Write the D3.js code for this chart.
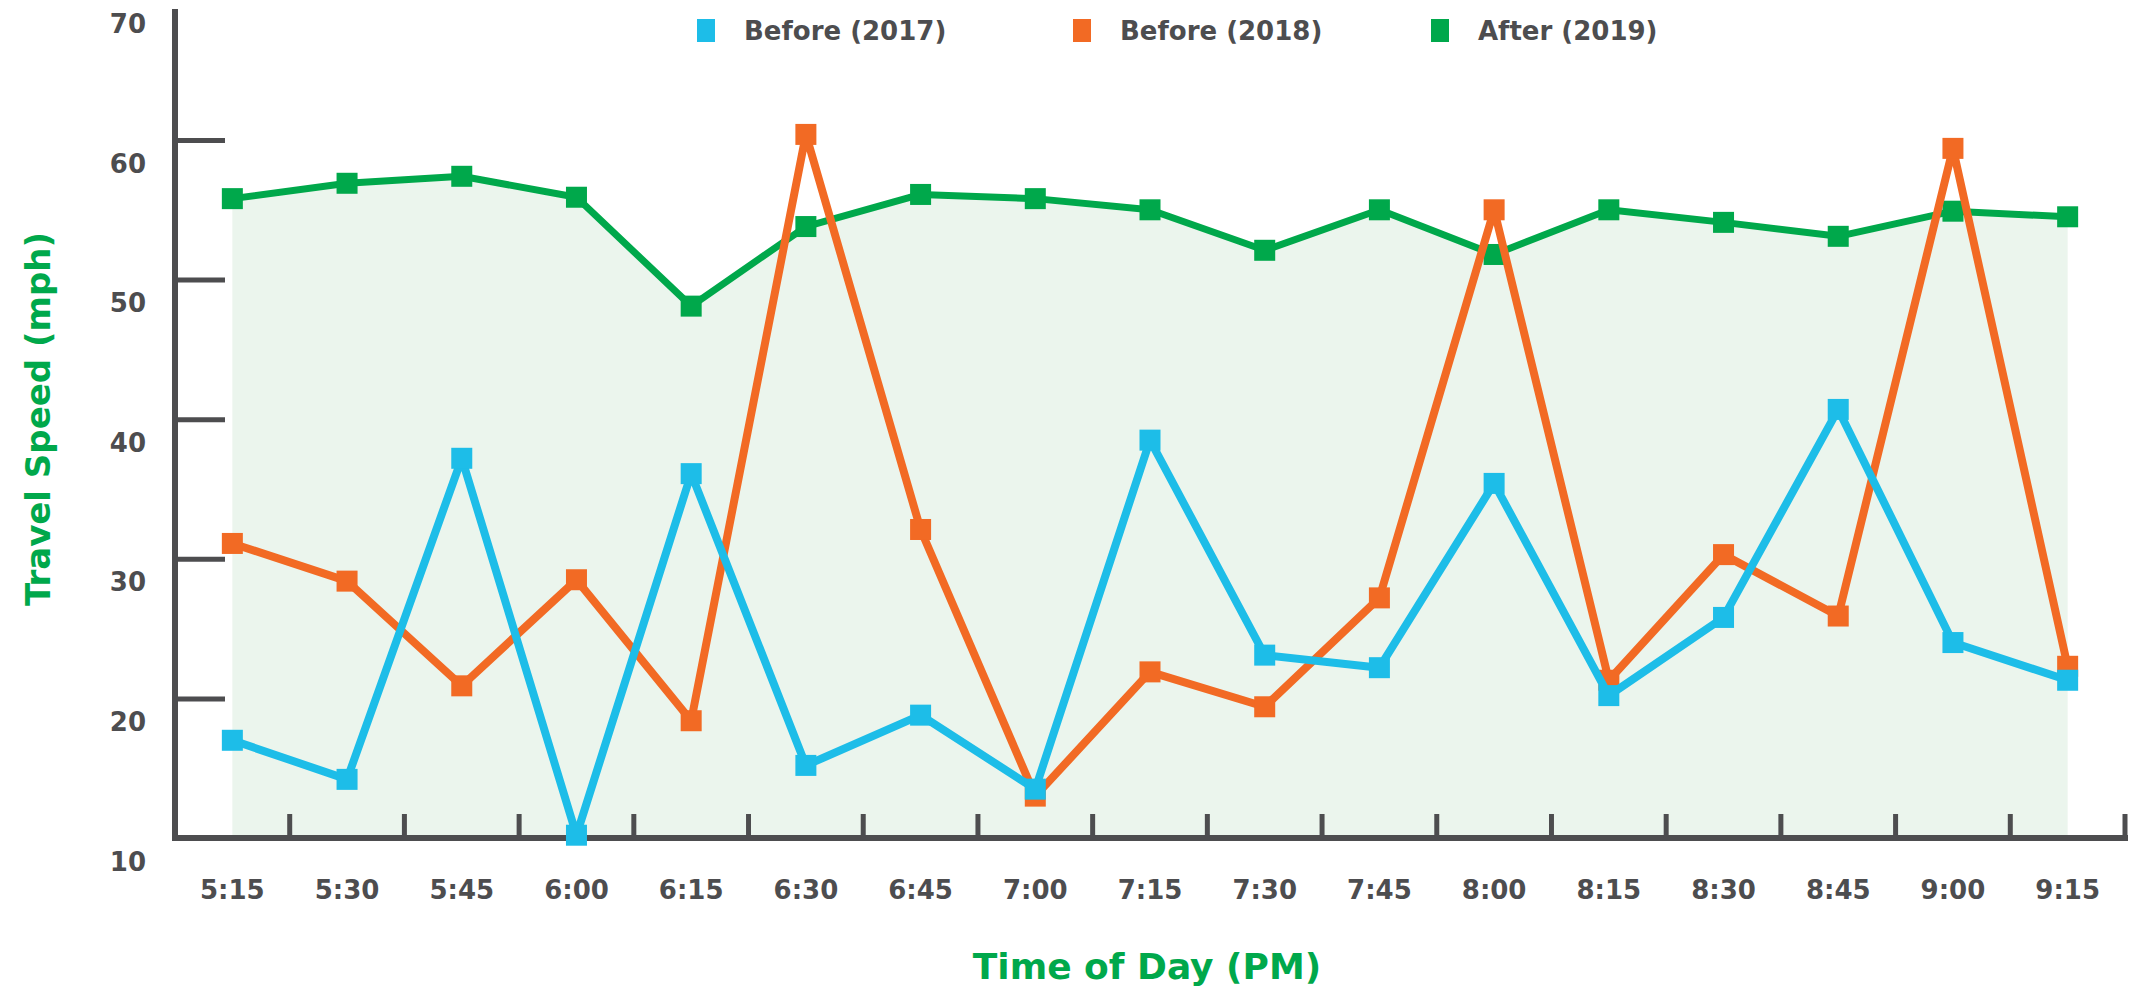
<!DOCTYPE html>
<html>
<head>
<meta charset="utf-8">
<script src="https://cdn.jsdelivr.net/npm/d3@7"></script>
<style>
  html, body { margin: 0; padding: 0; background: #ffffff; }
  svg { display: block; }
</style>
</head>
<body>
<svg id="chart" width="2129" height="993"></svg>
<script>
const categories = ["5:15","5:30","5:45","6:00","6:15","6:30","6:45","7:00","7:15","7:30","7:45","8:00","8:15","8:30","8:45","9:00","9:15"];
const before2017 = [17.0,14.2,37.2,10.2,36.1,15.2,18.8,13.5,38.5,23.1,22.2,35.4,20.2,25.8,40.7,24.0,21.3];
const before2018 = [31.1,28.4,20.9,28.5,18.4,60.4,32.1,13.0,21.9,19.4,27.2,55.0,21.3,30.3,25.9,59.4,22.3];
const after2019  = [55.8,56.9,57.4,55.9,48.1,53.8,56.1,55.8,55.0,52.1,55.0,51.8,55.0,54.1,53.1,54.9,54.5];
const yTicks = [10,20,30,40,50,60,70];
const seriesNames = ["Before (2017)","Before (2018)","After (2019)"];
const seriesColors = ["#1dbde8","#f26a24","#00a84b"];

const svg = d3.select("#chart");
const axisColor = "#4d4d4f";
const font = "'DejaVu Sans', Verdana, sans-serif";

const x = d3.scaleBand().domain(categories).range([175, 2125]).padding(0);
const y = d3.scaleLinear().domain([10, 70]).range([838, 0.4]);
const cx = c => x(c) + x.bandwidth() / 2;

// area fill under "After (2019)"
const area = d3.area()
  .x((d, i) => cx(categories[i]))
  .y0(y(10))
  .y1(d => y(d));
svg.append("path").datum(after2019)
  .attr("d", area)
  .attr("fill", "#ebf5ed");

// Y axis
const yAxis = d3.axisLeft(y).tickValues(yTicks).tickSize(-50).tickPadding(29);
const yg = svg.append("g").attr("transform", "translate(175,0)").call(yAxis);
yg.select(".domain").remove();
yg.selectAll(".tick line")
  .attr("stroke", axisColor).attr("stroke-width", 5)
  .attr("display", d => (d === 10 || d === 70) ? "none" : null);
yg.selectAll(".tick text")
  .attr("fill", axisColor)
  .attr("font-family", font).attr("font-weight", "bold").attr("font-size", 26)
  .attr("dy", "0.35em")
  .attr("transform", "translate(0,23)");
svg.append("line")
  .attr("x1", 175).attr("x2", 175).attr("y1", 9).attr("y2", y(10) + 3)
  .attr("stroke", axisColor).attr("stroke-width", 6);

// X axis
const xAxis = d3.axisBottom(x).tickSize(0).tickPadding(0);
const xg = svg.append("g").attr("transform", `translate(0,${y(10)})`).call(xAxis);
xg.select(".domain").remove();
xg.selectAll(".tick text")
  .attr("fill", axisColor)
  .attr("font-family", font).attr("font-weight", "bold").attr("font-size", 26)
  .attr("y", 52).attr("dy", "0.35em");
svg.append("line")
  .attr("x1", 172).attr("x2", x.range()[1] + 3).attr("y1", y(10)).attr("y2", y(10))
  .attr("stroke", axisColor).attr("stroke-width", 6);
const boundaries = categories.slice(1).map(c => x(c)).concat([x.range()[1]]);
svg.append("g").selectAll("line").data(boundaries).join("line")
  .attr("x1", d => d).attr("x2", d => d)
  .attr("y1", y(10)).attr("y2", y(10) - 24)
  .attr("stroke", axisColor).attr("stroke-width", 5);

// series: draw green first, then orange, then blue on top
const seriesData = [before2017, before2018, after2019];
const widths = [8, 8, 7];
const line = d3.line().x((d, i) => cx(categories[i])).y(d => y(d));
const ms = 21;
[2, 1, 0].forEach(k => {
  const g = svg.append("g");
  g.append("path").datum(seriesData[k])
    .attr("d", line)
    .attr("fill", "none")
    .attr("stroke", seriesColors[k])
    .attr("stroke-width", widths[k])
    .attr("stroke-linejoin", "round");
  g.selectAll("rect").data(seriesData[k]).join("rect")
    .attr("x", (d, i) => cx(categories[i]) - ms / 2)
    .attr("y", d => y(d) - ms / 2)
    .attr("width", ms).attr("height", ms)
    .attr("fill", seriesColors[k]);
});

// Legend
const legendX = [697, 1073, 1431];
const lg = svg.append("g");
seriesNames.forEach((name, i) => {
  lg.append("rect")
    .attr("x", legendX[i]).attr("y", 19).attr("width", 18).attr("height", 23)
    .attr("fill", seriesColors[i]);
  lg.append("text")
    .attr("x", legendX[i] + 47).attr("y", 31).attr("dy", "0.35em")
    .attr("fill", axisColor)
    .attr("font-family", font).attr("font-weight", "bold").attr("font-size", 26)
    .text(name);
});

// Axis titles
svg.append("text")
  .attr("x", 1147).attr("y", 966).attr("dy", "0.35em")
  .attr("text-anchor", "middle")
  .attr("fill", "#00a84b")
  .attr("font-family", font).attr("font-weight", "bold").attr("font-size", 36)
  .text("Time of Day (PM)");
svg.append("text")
  .attr("transform", "translate(38,419) rotate(-90)")
  .attr("dy", "0.35em")
  .attr("text-anchor", "middle")
  .attr("fill", "#00a84b")
  .attr("font-family", font).attr("font-weight", "bold").attr("font-size", 34)
  .text("Travel Speed (mph)");
</script>
</body>
</html>
